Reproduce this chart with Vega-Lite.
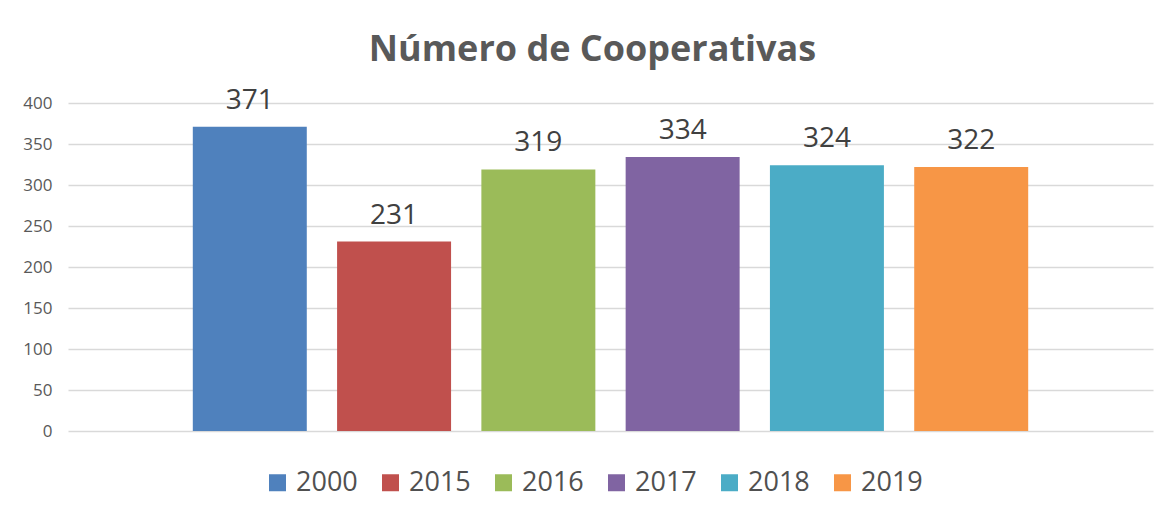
{
  "$schema": "https://vega.github.io/schema/vega-lite/v6.json",
  "width": 1085,
  "height": 328,
  "padding": {"left": 8, "top": 31, "right": 15, "bottom": 10},
  "background": "#ffffff",
  "title": {
    "text": "Número de Cooperativas",
    "font": "Open Sans",
    "fontSize": 36,
    "fontWeight": "bold",
    "color": "#595959",
    "anchor": "middle",
    "offset": 18,
    "dx": -18
  },
  "data": {
    "values": [
      {"year": "2000", "count": 371},
      {"year": "2015", "count": 231},
      {"year": "2016", "count": 319},
      {"year": "2017", "count": 334},
      {"year": "2018", "count": 324},
      {"year": "2019", "count": 322}
    ]
  },
  "encoding": {
    "x": {
      "field": "year",
      "type": "nominal",
      "axis": null,
      "scale": {"paddingInner": 0.21, "paddingOuter": 0.865}
    },
    "y": {
      "field": "count",
      "type": "quantitative",
      "scale": {"domain": [0, 400]},
      "axis": {
        "title": null,
        "values": [0, 50, 100, 150, 200, 250, 300, 350, 400],
        "ticks": false,
        "domain": false,
        "labelFont": "Open Sans",
        "labelFontSize": 17,
        "labelColor": "#595959",
        "labelPadding": 16,
        "minExtent": 60,
        "maxExtent": 60,
        "gridColor": "#D9D9D9",
        "gridWidth": 1.5
      }
    }
  },
  "layer": [
    {
      "mark": {"type": "bar"},
      "encoding": {
        "color": {
          "field": "year",
          "type": "nominal",
          "scale": {
            "domain": ["2000", "2015", "2016", "2017", "2018", "2019"],
            "range": ["#4F81BD", "#C0504D", "#9BBB59", "#8064A2", "#4BACC6", "#F79646"]
          },
          "legend": {
            "title": null,
            "orient": "none",
            "legendX": 196,
            "legendY": 366,
            "direction": "horizontal",
            "symbolType": "square",
            "symbolSize": 289,
            "symbolStrokeWidth": 0,
            "labelFont": "Open Sans",
            "labelFontSize": 27,
            "labelColor": "#505050",
            "labelOffset": 5,
            "columnPadding": 19
          }
        }
      }
    },
    {
      "mark": {
        "type": "text",
        "baseline": "alphabetic",
        "dy": -18,
        "font": "Open Sans",
        "fontSize": 28,
        "color": "#404040"
      },
      "encoding": {
        "text": {"field": "count", "type": "quantitative"}
      }
    }
  ],
  "config": {
    "view": {"stroke": null}
  }
}
